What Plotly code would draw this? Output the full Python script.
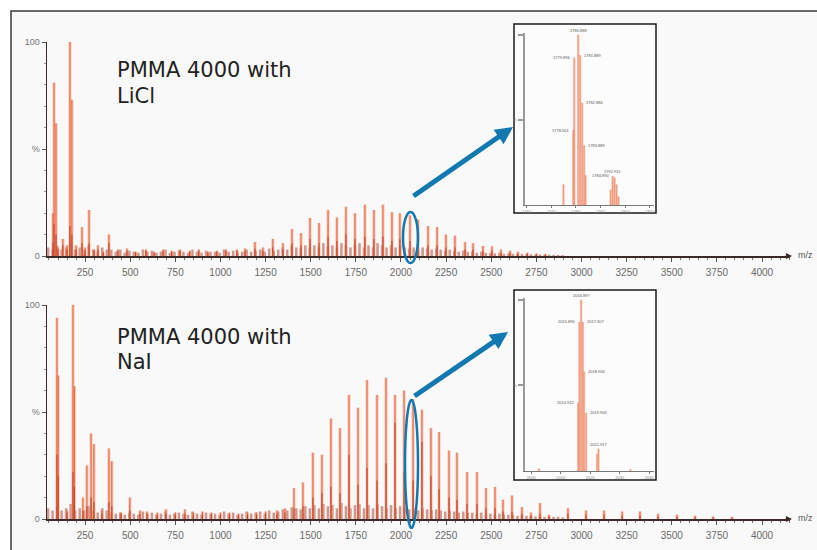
import plotly.graph_objects as go

# ---------------- data ----------------
mz_ticks = [250, 500, 750, 1000, 1250, 1500, 1750, 2000, 2250, 2500, 2750, 3000, 3250, 3500, 3750, 4000]

# PMMA 4000 with LiCl (top spectrum)
li_mz = [72, 78, 89, 100, 127, 150, 166, 177, 200, 233,
         250, 272, 300, 321, 350, 382, 432, 482, 530, 587,
         632, 682, 730, 776, 830, 880, 930, 980, 1030, 1091,
         1136, 1191, 1235, 1290, 1346, 1396, 1446, 1496, 1546, 1596,
         1645, 1695, 1745, 1800, 1850, 1900, 1950, 1994, 2050, 2094,
         2150, 2200, 2249, 2299, 2355, 2399, 2454, 2504, 2554, 2604,
         2648, 2700, 2750, 2800]
li_int = [20, 81, 62, 4, 8, 5, 100, 73, 5, 13.5,
          4, 21.5, 3, 5, 2, 10, 3, 3.5, 2, 3,
          2, 3, 2.5, 3, 2.5, 3, 2, 2.5, 3, 3,
          3.5, 6.5, 4, 8, 6, 12.6, 10.7, 17.8, 15.4, 21.5,
          18, 23, 20, 24, 21.5, 24, 20.5, 20, 19, 17,
          14, 13.5, 10, 9.5, 6.5, 6, 4.7, 4.5, 3, 2.5,
          2, 1.5, 1.2, 1]
li_core = [6, 15, 10, 3, 5, 3, 14, 10, 3, 6,
           2.5, 6, 2.5, 3, 1.5, 6, 2.5, 2.5, 1.5, 2.5,
           1.5, 2.5, 2, 2.5, 2, 2.5, 1.5, 2, 2.5, 2.5,
           2.5, 3.5, 2.5, 4, 3, 6, 5, 8, 6, 9,
           7, 10, 8, 9, 8, 9, 7, 8, 7, 6,
           5, 5, 4, 4, 3, 3, 2.5, 2.5, 1.5, 1.5,
           1.2, 1, 0.8, 0.6]
li_noise = [4, 3, 5, 3, 4, 6, 3, 4, 3, 5, 3, 2, 4, 3, 3,
            2, 3, 1.5, 2.5, 2, 1.5, 3, 2, 2.5, 1.5, 2, 3, 1.5, 2, 2.5, 2, 1.5, 3,
            2, 1.5, 2.5, 2, 2, 1.5, 3, 2, 2.5, 1.5, 2, 3, 2, 2.5, 3, 2, 3.5, 2.5,
            3, 4, 3, 5, 4, 3.5, 5, 4, 5, 4, 6, 4.5, 5, 4, 6, 5, 4, 5, 6, 4,
            5, 4, 6, 5, 4, 5, 4, 5, 4, 3.5, 4, 3, 4, 3.5, 3, 3.5, 3, 2.5, 3, 2.5,
            2, 2.5, 2, 2, 1.5, 2, 1.5, 1.5, 1.2, 1.5, 1, 1.2,
            1, 0.8, 1, 0.7, 0.8, 0.6, 0.7, 0.5, 0.6, 0.5, 0.5, 0.4]

# PMMA 4000 with NaI (bottom spectrum)
na_mz = [94, 101, 150, 183, 191, 238, 260, 283, 299, 343,
         382, 398, 449, 498, 554, 593, 650, 698, 750, 803,
         850, 900, 950, 1000, 1050, 1100, 1150, 1200, 1250, 1313,
         1357, 1407, 1457, 1512, 1562, 1612, 1662, 1712, 1762, 1812,
         1867, 1917, 1967, 2017, 2067, 2116, 2166, 2211, 2266, 2310,
         2366, 2421, 2471, 2521, 2565, 2615, 2670, 2720, 2770, 2820,
         2925, 3025, 3125, 3225, 3324, 3424, 3529, 3629, 3729, 3834]
na_int = [94, 67, 4, 100, 62, 10, 25, 40, 35, 4,
          33, 27, 3, 10, 4, 3.5, 3, 4.5, 3, 4.5,
          3, 3.5, 3, 3, 3, 2.5, 3, 3, 3.5, 4,
          5, 14.5, 17, 31, 30, 47, 42.5, 58, 52, 65,
          58, 66, 58, 60, 56, 51, 42.5, 40.6, 32, 31,
          22, 22, 14.5, 15, 9, 11, 5.6, 3, 7.5, 2,
          5, 4, 4, 3.5, 3.5, 2.5, 2, 1.5, 1.2, 1]
na_core = [30, 20, 3, 22, 15, 4, 6, 10, 8, 2.5,
           8, 6, 2.5, 4, 2.5, 2.5, 2, 2.5, 2, 2.5,
           2, 2.5, 2, 2, 2, 1.5, 2, 2, 2.5, 2.5,
           3, 5, 6, 10, 12, 15, 12, 30, 16, 24,
           18, 26, 45, 22, 18, 36, 20, 14, 10, 9,
           7, 7, 5, 5, 3.5, 3.5, 2.5, 1.5, 2.5, 1.2,
           2.5, 2, 2, 1.5, 1.5, 1.2, 1, 0.8, 0.6, 0.5]
na_noise = [5, 4, 6, 4, 5, 7, 4, 5, 4, 6, 4, 3, 5, 4, 3,
            2.5, 3, 2, 3, 2.5, 2, 3.5, 2.5, 3, 2, 2.5, 3.5, 2, 2.5, 3, 2.5, 2, 3.5,
            2.5, 2, 3, 2.5, 2.5, 2, 3.5, 2.5, 3, 2, 2.5, 3.5, 2.5, 3, 3.5, 2.5, 4, 3,
            3.5, 4.5, 4, 5.5, 5, 4.5, 6, 5, 6.5, 5, 7, 6, 6.5, 5, 7.5, 6, 5, 6.5, 7, 5,
            6.5, 5, 7, 6, 5, 6.5, 5, 6, 5, 4.5, 5, 4, 5, 4.5, 4, 4.5, 4, 3.5, 4, 3.5,
            3, 3.5, 3, 3, 2.5, 3, 2.5, 2.5, 2, 2.5, 2, 2,
            2, 1.5, 2, 1.5, 1.5, 1.2, 1.5, 1, 1.2, 1, 1, 0.8]

# zoomed insets
ins1_mz = [1774.9, 1778.9, 1779.3, 1780.9, 1781.7, 1782.5, 1783.3, 1783.9, 1794.1, 1794.9, 1795.7, 1796.5, 1797.3]
ins1_int = [12, 44, 86.5, 100, 88, 60, 35, 17.5, 9, 17, 16, 12, 5]
ins1_lbl_mz = [1780.9, 1779.3, 1781.7, 1782.5, 1778.9, 1783.3, 1784.9, 1794.9]
ins1_lbl_int = [100, 86.5, 88, 60, 44, 35, 17.5, 17]
ins1_lbl = ["1780.888", "1779.896", "1781.889", "1782.886", "1778.901", "1783.889", "1784.890", "1792.911"]
ins1_ticks = [1760, 1770, 1780, 1790, 1800, 1810]

ins2_mz = [2002.6, 2015.9, 2016.3, 2016.9, 2017.5, 2017.9, 2018.6, 2022.3, 2022.8, 2033.6]
ins2_int = [1.5, 40, 87, 100, 87, 58, 34, 10, 13, 1]
ins2_lbl_mz = [2016.9, 2016.3, 2017.5, 2017.9, 2015.9, 2018.6, 2022.8]
ins2_lbl_int = [100, 87, 87, 58, 40, 34, 13]
ins2_lbl = ["2016.897", "2015.896", "2017.907", "2018.906", "2014.912", "2019.906", "2021.917"]
ins2_ticks = [2000, 2010, 2020, 2030, 2040]

# ---------------- layout helpers ----------------
W, H = 817, 550
def px(x):
    return x / W
def py(y):
    return 1 - y / H

fig = go.Figure()

def add_spectrum(mz, inten, core, noise, xa, ya):
    noise_mz = [45 + 25 * i for i in range(len(noise))]
    fig.add_trace(go.Bar(x=noise_mz, y=noise, width=14, xaxis=xa, yaxis=ya,
                         marker=dict(color="rgba(165,55,35,0.5)", line=dict(width=0)), hoverinfo="skip"))
    fig.add_trace(go.Bar(x=mz, y=inten, width=18, xaxis=xa, yaxis=ya,
                         marker=dict(color="rgba(243,150,120,0.45)", line=dict(width=0))))
    fig.add_trace(go.Bar(x=mz, y=inten, width=7, xaxis=xa, yaxis=ya,
                         marker=dict(color="#e8704c", line=dict(width=0))))
    fig.add_trace(go.Bar(x=mz, y=core, width=6, xaxis=xa, yaxis=ya,
                         marker=dict(color="#c4452a", line=dict(width=0))))

add_spectrum(li_mz, li_int, li_core, li_noise, "x", "y")
add_spectrum(na_mz, na_int, na_core, na_noise, "x2", "y2")

def add_inset(mz, inten, xa, ya, w):
    fig.add_trace(go.Bar(x=mz, y=inten, width=w, xaxis=xa, yaxis=ya,
                         marker=dict(color="rgba(245,165,140,0.65)", line=dict(width=0))))
    fig.add_trace(go.Bar(x=mz, y=inten, width=w * 0.3, xaxis=xa, yaxis=ya,
                         marker=dict(color="#ec8c6c", line=dict(width=0))))

add_inset(ins1_mz, ins1_int, "x3", "y3", 1.0)
add_inset(ins2_mz, ins2_int, "x4", "y4", 0.8)

tickfont = dict(family="Liberation Sans", size=10, color="#6a6a6a")
main_x = dict(range=[39, 4155], tickvals=mz_ticks, ticktext=[str(t) for t in mz_ticks],
              ticks="outside", ticklen=4, tickwidth=1, tickcolor="#555",
              showline=True, linecolor="#3b2b28", linewidth=1.5, showgrid=False, zeroline=False,
              tickfont=tickfont, ticklabelstandoff=2,
              minor=dict(tick0=0, dtick=50, ticks="outside", ticklen=2, tickcolor="#777"),
              fixedrange=True)
main_y = dict(range=[0, 100], tickvals=[0, 50, 100], ticktext=["0", "%", "100"],
              ticks="outside", ticklen=4, tickwidth=1, tickcolor="#555",
              showline=True, linecolor="#3b2b28", linewidth=1.5, showgrid=False, zeroline=False,
              tickfont=dict(family="Liberation Sans", size=9, color="#777"),
              minor=dict(tick0=0, dtick=10, ticks="outside", ticklen=2, tickcolor="#999"),
              fixedrange=True)

ins_font = dict(family="Liberation Sans", size=4, color="#888")
def ins_x(rng, ticks):
    return dict(range=rng, tickvals=ticks, ticktext=[str(t) for t in ticks],
                ticks="outside", ticklen=2, tickcolor="#777", showline=True, linecolor="#777",
                linewidth=1, showgrid=False, zeroline=False, tickfont=ins_font, fixedrange=True)
def ins_y():
    return dict(range=[0, 101], tickvals=[50, 100], ticktext=["%", ""], ticks="outside", ticklen=5,
                tickwidth=2, tickcolor="#999", showline=True, linecolor="#9a9a9a", linewidth=2.5,
                showgrid=False, zeroline=False, tickfont=ins_font, fixedrange=True)

layout = dict(
    width=W, height=H, margin=dict(l=0, r=0, t=0, b=0),
    template="none", paper_bgcolor="white", plot_bgcolor="rgba(0,0,0,0)",
    barmode="overlay", showlegend=False,
    xaxis=dict(main_x, domain=[px(47), px(790)], anchor="y"),
    yaxis=dict(main_y, domain=[py(256), py(42)], anchor="x"),
    xaxis2=dict(main_x, domain=[px(47), px(790)], anchor="y2"),
    yaxis2=dict(main_y, domain=[py(519), py(305)], anchor="x2"),
    xaxis3=dict(ins_x([1759.3, 1811.7], ins1_ticks), domain=[px(525), px(654)], anchor="y3"),
    yaxis3=dict(ins_y(), domain=[py(205), py(33)], anchor="x3"),
    xaxis4=dict(ins_x([1997.9, 2041.6], ins2_ticks), domain=[px(525), px(654)], anchor="y4"),
    yaxis4=dict(ins_y(), domain=[py(471), py(298)], anchor="x4"),
)
fig.update_layout(**layout)

blue = "#1279b0"
shapes = [
    dict(type="rect", xref="paper", yref="paper", x0=px(11), x1=px(840), y0=py(11), y1=py(570),
         fillcolor="#f9f9f9", line=dict(color="#3a3a3a", width=1.5), layer="below"),
    dict(type="rect", xref="paper", yref="paper", x0=px(514), x1=px(656), y0=py(24), y1=py(213),
         fillcolor="#fcfcfc", line=dict(color="#1a1a1a", width=1.5), layer="below"),
    dict(type="rect", xref="paper", yref="paper", x0=px(514), x1=px(656), y0=py(290), y1=py(480),
         fillcolor="#fcfcfc", line=dict(color="#1a1a1a", width=1.5), layer="below"),
    dict(type="circle", xref="paper", yref="paper", x0=px(403), x1=px(418), y0=py(212), y1=py(263),
         line=dict(color=blue, width=2.5), layer="above"),
    dict(type="circle", xref="paper", yref="paper", x0=px(405), x1=px(418), y0=py(400), y1=py(528),
         line=dict(color=blue, width=2.5), layer="above"),
]
fig.update_layout(shapes=shapes)

ann = []
title_font = dict(family="DejaVu Sans", size=21, color="#222")
for txt, x, y in [("PMMA 4000 with", 115, 70), ("LiCl", 115, 96),
                  ("PMMA 4000 with", 115, 337), ("NaI", 115, 362)]:
    ann.append(dict(text=txt, x=px(x), y=py(y), xref="paper", yref="paper", xanchor="left",
                    yanchor="middle", showarrow=False, font=title_font))
# m/z labels and axis end arrows
for yy in (256, 519):
    ann.append(dict(text="m/z", x=px(815), y=py(yy - 1), xref="paper", yref="paper", xanchor="right",
                    yanchor="middle", showarrow=False, font=dict(family="Liberation Sans", size=9, color="#555")))
    ann.append(dict(text="", x=px(792), y=py(yy), xref="paper", yref="paper", ax=-8, ay=0,
                    showarrow=True, arrowhead=2, arrowsize=1, arrowwidth=1.2, arrowcolor="#3b2b28"))
# blue arrows
ann.append(dict(text="", x=px(513), y=py(127), xref="paper", yref="paper", ax=-101, ay=70,
                showarrow=True, arrowhead=2, arrowsize=0.7, arrowwidth=5, arrowcolor=blue, standoff=0))
ann.append(dict(text="", x=px(508), y=py(332), xref="paper", yref="paper", ax=-95, ay=65,
                showarrow=True, arrowhead=2, arrowsize=0.7, arrowwidth=5, arrowcolor=blue, standoff=0))
# inset peak labels (side: which side of the peak the label sits)
lblfont = dict(family="Liberation Sans", size=4, color="#555")
ins1_side = ["center", "right", "left", "left", "right", "left", "left", "center"]
ins2_side = ["center", "right", "left", "left", "right", "left", "center"]
def side_args(s):
    if s == "center":
        return dict(xanchor="center", yanchor="bottom", xshift=0)
    if s == "right":
        return dict(xanchor="right", yanchor="middle", xshift=-2)
    return dict(xanchor="left", yanchor="middle", xshift=2)
for m, v, t, s in zip(ins1_lbl_mz, ins1_lbl_int, ins1_lbl, ins1_side):
    ann.append(dict(text=t, x=m, y=v, xref="x3", yref="y3", showarrow=False, font=lblfont, **side_args(s)))
for m, v, t, s in zip(ins2_lbl_mz, ins2_lbl_int, ins2_lbl, ins2_side):
    ann.append(dict(text=t, x=m, y=v, xref="x4", yref="y4", showarrow=False, font=lblfont, **side_args(s)))
fig.update_layout(annotations=ann)

fig.write_html("out.html", config={"displayModeBar": False, "staticPlot": True},
               post_script="document.body.style.margin='0';document.body.style.overflow='hidden';")
